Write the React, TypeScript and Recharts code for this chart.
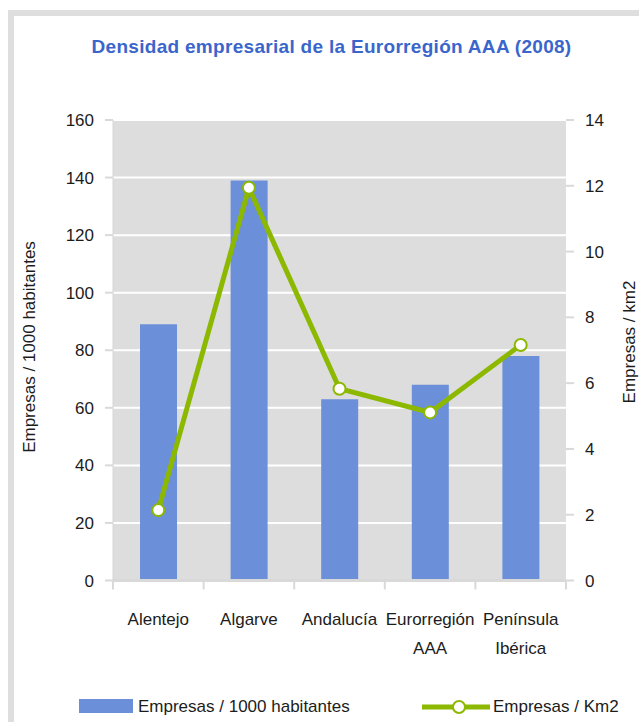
import React from 'react';
import { ComposedChart, Bar, Line, XAxis, YAxis, CartesianGrid, Legend } from 'recharts';

const title = 'Densidad empresarial de la Eurorregión AAA (2008)';
const categories = ['Alentejo', 'Algarve', 'Andalucía', 'Eurorregión\nAAA', 'Península\nIbérica'];
const empresasPorMilHabitantes = [89, 139, 63, 68, 78];
const empresasPorKm2 = [2.14, 11.94, 5.83, 5.11, 7.16];
const leftTicks = [0, 20, 40, 60, 80, 100, 120, 140, 160];
const rightTicks = [0, 2, 4, 6, 8, 10, 12, 14];
const seriesNames = ['Empresas / 1000 habitantes', 'Empresas / Km2'];
const axisTitles = ['Empresas / 1000 habitantes', 'Empresas / km2'];

const data = categories.map((c, i) => ({
  category: c,
  hab: empresasPorMilHabitantes[i],
  km2: empresasPorKm2[i],
}));

const FONT = '"Liberation Sans", Arial, sans-serif';
const BAR = '#6b8fd9';
const GREEN = '#8cb800';
const TEXT = '#1c1c1c';
const AXIS_GRAY = '#d9d9d9';

const CategoryTick = (props: any) => {
  const { x, y, payload, index } = props;
  const half = payload && typeof payload.offset === 'number' && payload.offset > 0 ? payload.offset : 45.25;
  const lines = String(payload.value).split('\n');
  const isLast = index === categories.length - 1;
  return (
    <g>
      <line x1={x - half} x2={x - half} y1={y} y2={y + 9} stroke={AXIS_GRAY} strokeWidth={2} />
      {isLast && <line x1={x + half} x2={x + half} y1={y} y2={y + 9} stroke={AXIS_GRAY} strokeWidth={2} />}
      <text x={x} y={y + 44.5} textAnchor="middle" fill={TEXT} fontSize={17} fontFamily={FONT}>
        {lines.map((l, i) => (
          <tspan key={i} x={x} dy={i === 0 ? 0 : 29}>{l}</tspan>
        ))}
      </text>
    </g>
  );
};

const LeftTitle = () => {
  const cy = 339;
  const x = 27;
  return (
    <text x={x} y={cy} transform={`rotate(-90, ${x}, ${cy})`} textAnchor="middle" fill={TEXT} fontSize={17} fontFamily={FONT}>
      {axisTitles[0]}
    </text>
  );
};

const RightTitle = () => {
  const cy = 334;
  const x = 627;
  return (
    <text x={x} y={cy} transform={`rotate(-90, ${x}, ${cy})`} textAnchor="middle" fill={TEXT} fontSize={17} fontFamily={FONT}>
      {axisTitles[1]}
    </text>
  );
};

const LegendContent = () => (
  <div style={{ position: 'relative', width: 631, height: 24, fontFamily: FONT, fontSize: 17, color: TEXT }}>
    <div style={{ position: 'absolute', left: 71, top: 1, width: 54, height: 14, background: BAR }} />
    <span style={{ position: 'absolute', left: 130, top: -3, lineHeight: '24px', whiteSpace: 'nowrap' }}>{seriesNames[0]}</span>
    <svg style={{ position: 'absolute', left: 412, top: 0 }} width={74} height={20}>
      <line x1={2} x2={70} y1={9} y2={9} stroke={GREEN} strokeWidth={5} />
      <circle cx={39} cy={9} r={6} fill="#fff" stroke={GREEN} strokeWidth={2} />
    </svg>
    <span style={{ position: 'absolute', left: 485, top: -3, lineHeight: '24px', whiteSpace: 'nowrap' }}>{seriesNames[1]}</span>
  </div>
);

export default function App() {
  return (
    <div style={{ position: 'fixed', left: 8, top: 8, width: 631, height: 714, overflow: 'hidden', background: '#fff' }}>
      <div
        style={{
          position: 'absolute',
          left: 0,
          top: 2,
          width: 700,
          height: 760,
          border: '6px solid #dedede',
          boxSizing: 'border-box',
        }}
      />
      <div
        style={{
          position: 'absolute',
          left: 323.5,
          top: 29,
          transform: 'translateX(-50%)',
          whiteSpace: 'nowrap',
          fontFamily: FONT,
          fontWeight: 'bold',
          fontSize: 19,
          lineHeight: '20px',
          color: '#3a66cc',
          letterSpacing: 0.3,
        }}
      >
        {title}
      </div>
      <div style={{ position: 'absolute', left: 0, top: 0 }}>
        <ComposedChart width={631} height={714} data={data} margin={{ top: 112, right: 0, bottom: 0, left: 0 }}>
          <CartesianGrid yAxisId="left" vertical={false} stroke="#ffffff" strokeWidth={2} fill="#dddddd" />
          <XAxis
            dataKey="category"
            xAxisId={0}
            height={117.5}
            tickSize={0}
            tickMargin={0}
            tickLine={false}
            interval={0}
            axisLine={{ stroke: AXIS_GRAY, strokeWidth: 3 }}
            tick={<CategoryTick />}
          />
          <YAxis
            yAxisId="left"
            orientation="left"
            width={105}
            domain={[0, 160]}
            ticks={leftTicks}
            tickSize={8}
            tickMargin={11}
            axisLine={{ stroke: '#d6d6d6', strokeWidth: 1 }}
            tickLine={{ stroke: AXIS_GRAY, strokeWidth: 2 }}
            tick={{ fill: TEXT, fontSize: 17, fontFamily: FONT }}
            label={<LeftTitle />}
          />
          <YAxis
            yAxisId="right"
            orientation="right"
            width={73}
            domain={[0, 14]}
            ticks={rightTicks}
            tickSize={8}
            tickMargin={11}
            axisLine={false}
            tickLine={{ stroke: AXIS_GRAY, strokeWidth: 2 }}
            tick={{ fill: TEXT, fontSize: 17, fontFamily: FONT }}
            label={<RightTitle />}
          />
          <Bar yAxisId="left" dataKey="hab" name={seriesNames[0]} fill={BAR} barSize={37} isAnimationActive={false} />
          <Line
            yAxisId="right"
            dataKey="km2"
            name={seriesNames[1]}
            type="linear"
            stroke={GREEN}
            strokeWidth={5}
            dot={{ r: 6, fill: '#ffffff', stroke: GREEN, strokeWidth: 2 }}
            activeDot={false}
            isAnimationActive={false}
          />
          <Legend
            verticalAlign="bottom"
            align="left"
            content={<LegendContent />}
            wrapperStyle={{ left: 0, bottom: 0, width: 631, height: 24 }}
          />
        </ComposedChart>
      </div>
    </div>
  );
}
